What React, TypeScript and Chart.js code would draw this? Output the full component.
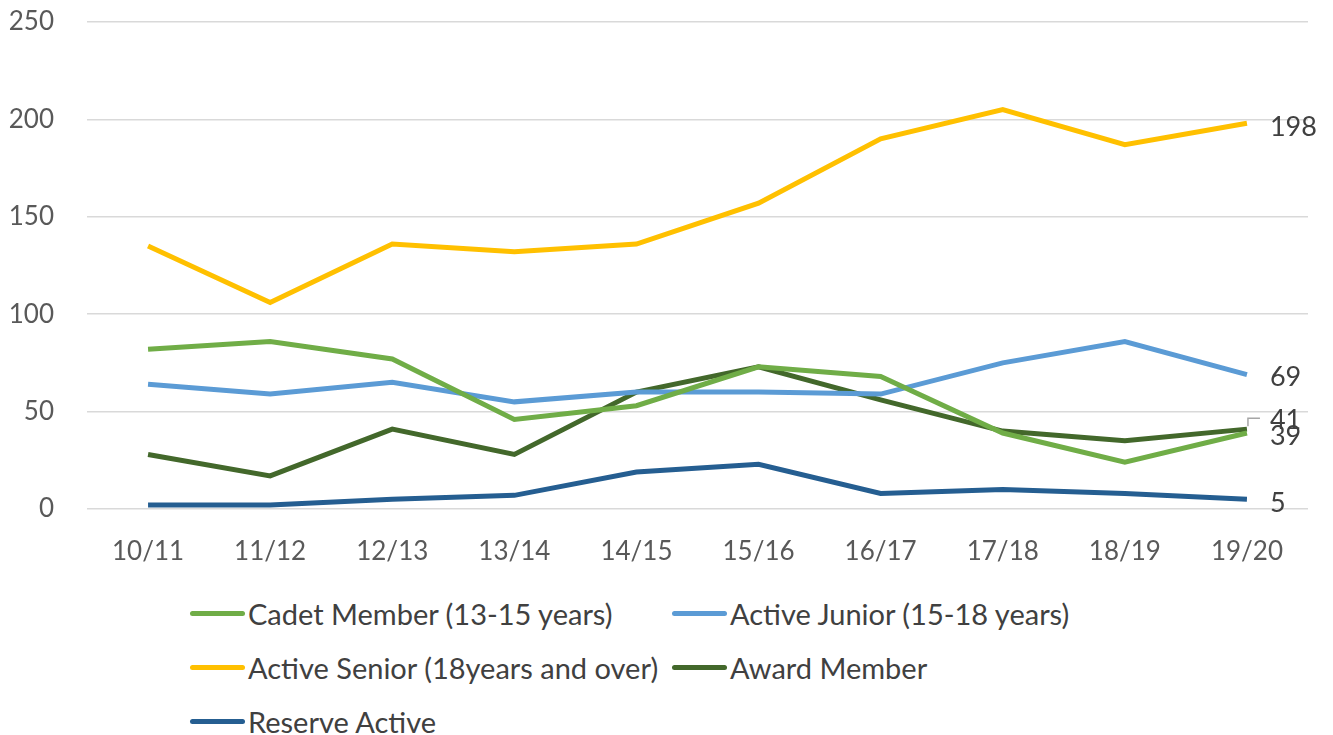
import React, { useEffect, useRef } from "react";
import { Chart, registerables } from "chart.js";

Chart.register(...registerables);

const categories = ["10/11", "11/12", "12/13", "13/14", "14/15", "15/16", "16/17", "17/18", "18/19", "19/20"];
const cadet = [82, 86, 77, 46, 53, 73, 68, 39, 24, 39];
const junior = [64, 59, 65, 55, 60, 60, 59, 75, 86, 69];
const senior = [135, 106, 136, 132, 136, 157, 190, 205, 187, 198];
const award = [28, 17, 41, 28, 60, 73, 56, 40, 35, 41];
const reserve = [2, 2, 5, 7, 19, 23, 8, 10, 8, 5];
const yTicks = [0, 50, 100, 150, 200, 250];

const seriesNames = [
  "Cadet Member (13-15 years)",
  "Active Junior (15-18 years)",
  "Active Senior (18years and over)",
  "Award Member",
  "Reserve Active",
];
const seriesColors = ["#70AD47", "#5B9BD5", "#FFC000", "#43682B", "#255E91"];
const labelDy = [3, 3, 4, -9, 4];

const FONT = "Lato, 'Open Sans', sans-serif";

const endLabels = {
  id: "endLabels",
  afterDatasetsDraw(chart: any) {
    const ctx = chart.ctx;
    ctx.save();
    ctx.font = `27px ${FONT}`;
    ctx.fillStyle = "#404040";
    ctx.textBaseline = "middle";
    ctx.textAlign = "left";
    chart.data.datasets.forEach((ds: any, i: number) => {
      const meta = chart.getDatasetMeta(i);
      const pt = meta.data[meta.data.length - 1];
      if (!pt) return;
      const v = ds.data[ds.data.length - 1];
      const dy = labelDy[i] || 0;
      if (i === 3) {
        ctx.strokeStyle = "#a6a6a6";
        ctx.lineWidth = 1.5;
        ctx.beginPath();
        ctx.moveTo(pt.x + 1, pt.y - 3);
        ctx.lineTo(pt.x + 1, pt.y + dy - 2);
        ctx.lineTo(pt.x + 13, pt.y + dy - 2);
        ctx.stroke();
      }
      ctx.fillText(String(v), pt.x + 23, pt.y + dy);
    });
    ctx.restore();
  },
};

export default function App() {
  const ref = useRef<HTMLCanvasElement | null>(null);
  useEffect(() => {
    document.body.style.margin = "0";
    const seriesData = [cadet, junior, senior, award, reserve];
    const chart = new Chart(ref.current as HTMLCanvasElement, {
      type: "line",
      data: {
        labels: categories,
        datasets: seriesData.map((d, i) => ({
          label: seriesNames[i],
          data: d,
          borderColor: seriesColors[i],
          backgroundColor: seriesColors[i],
          borderWidth: 5,
          pointRadius: 0,
          tension: 0,
          fill: false,
        })),
      },
      options: {
        animation: false,
        responsive: false,
        layout: { padding: { top: 22, right: 25, left: 0, bottom: 0 } },
        plugins: { legend: { display: false }, tooltip: { enabled: false } },
        scales: {
          x: {
            offset: true,
            grid: { display: false },
            border: { display: false },
            ticks: { font: { family: FONT, size: 26 }, color: "#595959", padding: 19, maxRotation: 0 },
            afterFit(scale: any) {
              scale.height = 71;
              scale.paddingTop = 0;
              scale.paddingBottom = 0;
            },
          },
          y: {
            min: 0,
            max: 250,
            afterBuildTicks(scale: any) {
              scale.ticks = yTicks.map((v) => ({ value: v }));
            },
            grid: { color: "#d9d9d9", lineWidth: 1.5, drawTicks: false },
            border: { display: false },
            ticks: { font: { family: FONT, size: 26 }, color: "#595959", padding: 33 },
            afterFit(scale: any) {
              scale.width = 87;
              scale.paddingTop = 0;
              scale.paddingBottom = 0;
            },
          },
        },
      },
      plugins: [endLabels],
    });
    return () => chart.destroy();
  }, []);

  const legendItem = (i: number, left: number, top: number) => (
    <div
      key={i}
      style={{
        position: "absolute",
        left,
        top,
        height: 30,
        display: "flex",
        alignItems: "center",
        fontFamily: FONT,
        fontSize: 29,
        color: "#404040",
        whiteSpace: "nowrap",
      }}
    >
      <span
        style={{
          display: "inline-block",
          width: 55,
          height: 5,
          borderRadius: 2.5,
          background: seriesColors[i],
          marginRight: 3,
        }}
      />
      <span>{seriesNames[i]}</span>
    </div>
  );

  return (
    <div style={{ position: "relative", width: 1333, height: 735, background: "#fff", overflow: "hidden" }}>
      <canvas ref={ref} width={1333} height={580} style={{ position: "absolute", left: 0, top: 0 }} />
      {legendItem(0, 190, 598)}
      {legendItem(1, 672, 598)}
      {legendItem(2, 190, 652)}
      {legendItem(3, 672, 652)}
      {legendItem(4, 190, 706)}
    </div>
  );
}
